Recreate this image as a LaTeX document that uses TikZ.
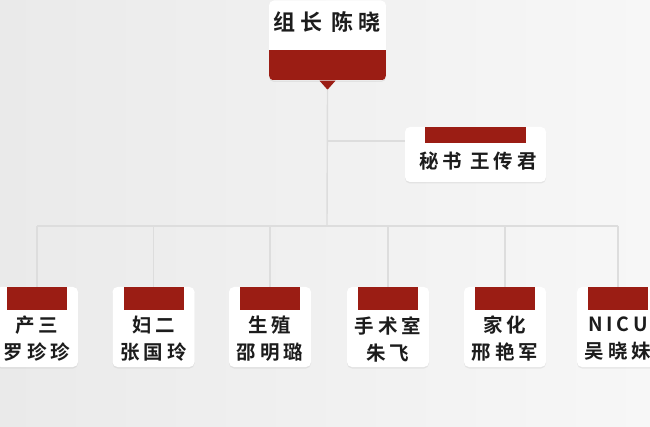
\documentclass[tikz,border=0pt]{standalone}
\usepackage{fontspec}
\setmainfont{Noto Sans CJK SC}[LetterSpace=20,BoldFont={* Bold}]
\usetikzlibrary{shadows,calc}
\definecolor{cardred}{RGB}{155,29,20}
\definecolor{linegray}{RGB}{221,221,221}
\definecolor{txt}{RGB}{28,28,28}
\definecolor{bgl}{RGB}{234,234,234}
\definecolor{bgr}{RGB}{247,247,247}
\tikzset{
  cardbox/.style={rectangle, rounded corners=5pt, fill=white, draw=none,
    drop shadow={opacity=0.13, shadow xshift=0pt, shadow yshift=-1.5pt}},
  botcard/.style={cardbox, minimum width=82pt, minimum height=80pt, inner sep=0pt,
    path picture={\fill[cardred, sharp corners] ([xshift=11pt]path picture bounding box.north west) rectangle ([xshift=-11pt,yshift=-23pt]path picture bounding box.north east);}},
  cardtxt/.style={font=\bfseries\fontsize{19.5}{27}\selectfont, text=txt, align=center, inner sep=0pt},
  conn/.style={draw=linegray, line width=1.4pt}
}
\begin{document}
\begin{tikzpicture}[x=1pt,y=-1pt]
\useasboundingbox (0,0) rectangle (650,427);
\shade[left color=bgl, right color=bgr] (0,0) rectangle (650,427);

% top card
\node[cardbox, minimum width=117pt, minimum height=80pt, inner sep=0pt,
  path picture={\fill[cardred, sharp corners] ([yshift=30pt]path picture bounding box.south west) rectangle (path picture bounding box.south east);}]
  (top) at (327.5,40.5) {};
\fill[cardred] ([xshift=-8pt]top.south) -- ([yshift=-9pt]top.south) -- ([xshift=8pt]top.south) -- cycle;
\coordinate (tip) at ([yshift=-9pt]top.south);
\node[cardtxt, font=\bfseries\fontsize{22}{24}\selectfont] (toptxt) at (327,22) {组长 陈晓};

% secretary
\node[cardbox, minimum width=141pt, minimum height=55pt, inner sep=0pt,
  path picture={\fill[cardred, sharp corners] ([xshift=20pt]path picture bounding box.north west) rectangle ([xshift=-20pt,yshift=-16pt]path picture bounding box.north east);}]
  (sec) at (475.5,154.5) {};
\node[cardtxt] (sectxt) at (478,161) {秘书 王传君};

% bottom cards
\node[botcard] (c1) at (37,327) {};
\node[botcard] (c2) at (153.5,327) {};
\node[botcard] (c3) at (270,327) {};
\node[botcard] (c4) at (388,327) {};
\node[botcard] (c5) at (505,327) {};
\node[botcard] (c6) at (618,327) {};
\node[cardtxt] (t1) at ([yshift=-12pt]c1.center) {产三\\罗珍珍};
\node[cardtxt] (t2) at ([yshift=-12pt]c2.center) {妇二\\张国玲};
\node[cardtxt] (t3) at ([yshift=-12pt]c3.center) {生殖\\邵明璐};
\node[cardtxt] (t4) at ([yshift=-12pt]c4.center) {手术室\\朱飞};
\node[cardtxt] (t5) at ([yshift=-12pt]c5.center) {家化\\邢艳军};
\node[cardtxt] (t6) at ([yshift=-12pt]c6.center) {NICU\\吴晓妹};

% connectors
\coordinate (hub) at (327,226);
\coordinate (sj) at (327,141);
\draw[conn] (tip) -- (hub);
\draw[conn] (sj) -- (sj -| sec.west);
\draw[conn] (c1.north |- hub) -- (c6.north |- hub);
\foreach \c in {c1,c2,c3,c4,c5,c6} { \draw[conn] (\c.north |- hub) -- (\c.north); }
\end{tikzpicture}
\end{document}
